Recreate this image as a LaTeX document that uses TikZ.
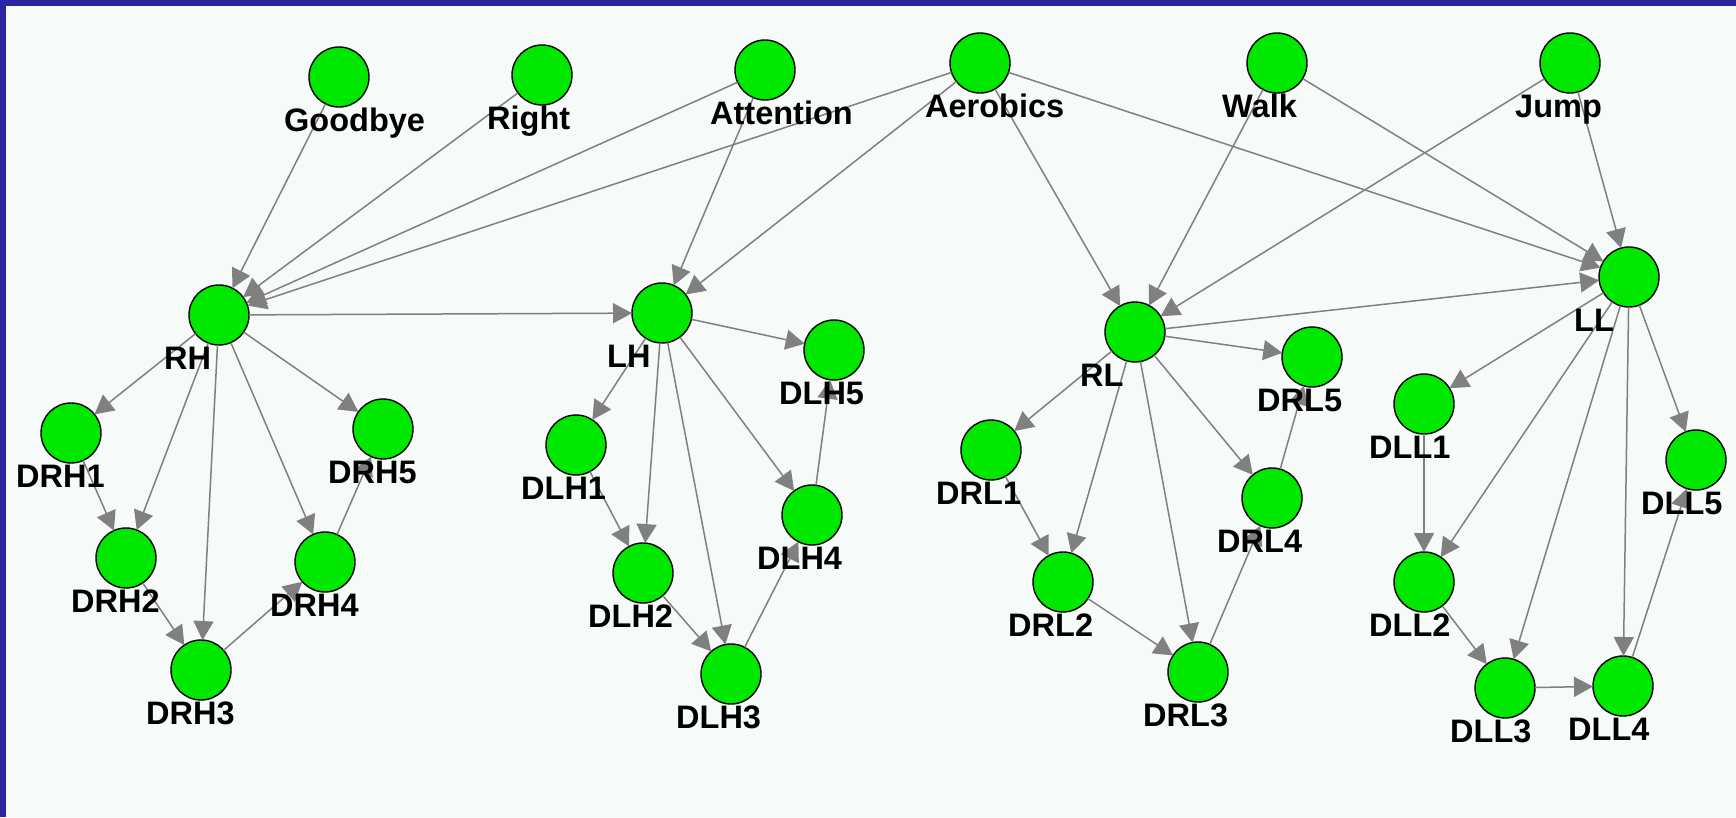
\documentclass[tikz,border=0pt]{standalone}
\usepackage{fontspec}
\setmainfont{Liberation Sans}
\usetikzlibrary{arrows.meta}
\definecolor{bandblue}{RGB}{40,38,160}
\definecolor{paper}{RGB}{246,250,248}
\definecolor{nodegreen}{RGB}{0,232,0}
\definecolor{edgegray}{RGB}{128,128,128}
\tikzset{
  vtx/.style={circle, draw=black, line width=1.4pt, fill=nodegreen, minimum size=60pt, inner sep=0pt, outer sep=0pt},
  lbl/.style={anchor=base west, inner sep=0pt, font=\bfseries\fontsize{32.5}{36}\selectfont},
  edge/.style={draw=edgegray, line width=1.5pt, -{Triangle[length=19pt,width=20pt,fill=edgegray]}}
}
\newcommand\vx[3]{\node[vtx] (#1) at (#2,#3) {};}
\newcommand\vl[4]{\node[lbl] (#1l) at (#2-55,#3+54.5) {#4};}
\begin{document}
\begin{tikzpicture}[x=1pt,y=-1pt]
\fill[bandblue] (0,0) rectangle (1736,817);
\fill[paper] (6,6) rectangle (1736,817);
\useasboundingbox (0,0) rectangle (1736,817);
% vertices
\vx{Goodbye}{339}{77}
\vx{Right}{542}{75}
\vx{Attention}{765}{70}
\vx{Aerobics}{980}{63}
\vx{Walk}{1277}{63}
\vx{Jump}{1570}{63}
\vx{RH}{219}{315}
\vx{LH}{662}{313}
\vx{RL}{1135}{332}
\vx{LL}{1629}{277}
\vx{DRH1}{71}{433}
\vx{DRH2}{126}{558}
\vx{DRH3}{201}{670}
\vx{DRH4}{325}{562}
\vx{DRH5}{383}{429}
\vx{DLH1}{576}{445}
\vx{DLH2}{643}{573}
\vx{DLH3}{731}{674}
\vx{DLH4}{812}{515}
\vx{DLH5}{834}{350}
\vx{DRL1}{991}{450}
\vx{DRL2}{1063}{582}
\vx{DRL3}{1198}{672}
\vx{DRL4}{1272}{498}
\vx{DRL5}{1312}{357}
\vx{DLL1}{1424}{404}
\vx{DLL2}{1424}{582}
\vx{DLL3}{1505}{688}
\vx{DLL4}{1623}{686}
\vx{DLL5}{1696}{460}
% edges
\foreach \a/\b in {Goodbye/RH, Right/RH, Attention/RH, Aerobics/RH,
  Attention/LH, Aerobics/LH, RH/LH,
  Aerobics/RL, Walk/RL, Jump/RL,
  Aerobics/LL, Walk/LL, Jump/LL, RL/LL,
  RH/DRH1, RH/DRH2, RH/DRH3, RH/DRH4, RH/DRH5,
  DRH1/DRH2, DRH2/DRH3, DRH3/DRH4, DRH4/DRH5,
  LH/DLH1, LH/DLH2, LH/DLH3, LH/DLH4, LH/DLH5,
  DLH1/DLH2, DLH2/DLH3, DLH3/DLH4, DLH4/DLH5,
  RL/DRL1, RL/DRL2, RL/DRL3, RL/DRL4, RL/DRL5,
  DRL1/DRL2, DRL2/DRL3, DRL3/DRL4, DRL4/DRL5,
  LL/DLL1, LL/DLL2, LL/DLL3, LL/DLL4, LL/DLL5,
  DLL1/DLL2, DLL2/DLL3, DLL3/DLL4, DLL4/DLL5}
  \draw[edge] (\a) -- (\b);
% labels
\vl{Goodbye}{339}{77}{Goodbye}
\vl{Right}{542}{75}{Right}
\vl{Attention}{765}{70}{Attention}
\vl{Aerobics}{980}{63}{Aerobics}
\vl{Walk}{1277}{63}{Walk}
\vl{Jump}{1570}{63}{Jump}
\vl{RH}{219}{315}{RH}
\vl{LH}{662}{313}{LH}
\vl{RL}{1135}{332}{RL}
\vl{LL}{1629}{277}{LL}
\vl{DRH1}{71}{433}{DRH1}
\vl{DRH2}{126}{558}{DRH2}
\vl{DRH3}{201}{670}{DRH3}
\vl{DRH4}{325}{562}{DRH4}
\vl{DRH5}{383}{429}{DRH5}
\vl{DLH1}{576}{445}{DLH1}
\vl{DLH2}{643}{573}{DLH2}
\vl{DLH3}{731}{674}{DLH3}
\vl{DLH4}{812}{515}{DLH4}
\vl{DLH5}{834}{350}{DLH5}
\vl{DRL1}{991}{450}{DRL1}
\vl{DRL2}{1063}{582}{DRL2}
\vl{DRL3}{1198}{672}{DRL3}
\vl{DRL4}{1272}{498}{DRL4}
\vl{DRL5}{1312}{357}{DRL5}
\vl{DLL1}{1424}{404}{DLL1}
\vl{DLL2}{1424}{582}{DLL2}
\vl{DLL3}{1505}{688}{DLL3}
\vl{DLL4}{1623}{686}{DLL4}
\vl{DLL5}{1696}{460}{DLL5}
\end{tikzpicture}
\end{document}
